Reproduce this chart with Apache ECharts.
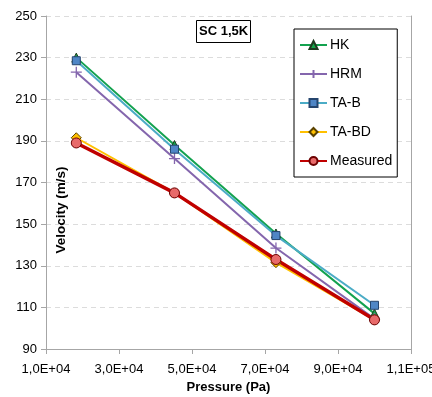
<!DOCTYPE html>
<html>
<head>
<meta charset="utf-8">
<script src="https://cdn.jsdelivr.net/npm/echarts@6/dist/echarts.min.js"></script>
<style>
  html, body { margin: 0; padding: 0; background: #fff; }
  #chart { width: 432px; height: 397px; }
</style>
</head>
<body>
<div id="chart"></div>
<script>
// Sound velocity vs. pressure for SC 1,5K: model predictions and measurement
const pressure = [18300, 45200, 73000, 100000];
const hk       = [230, 188, 145.5, 107];
const hrm      = [223, 181.5, 138.5, 104.5];
const taB      = [228.5, 186, 144.5, 111];
const taBD     = [191.5, 165, 131.5, 104];
const measured = [189, 165, 133, 104];

const FONT = '"Liberation Sans", Arial, sans-serif';

function pairs(xs, ys) { return xs.map((x, i) => [x, ys[i]]); }

// "1,0E+04" style scientific labels
function sci(v) {
  if (v === 0) return '0,0E+00';
  const e = Math.floor(Math.log10(Math.abs(v)) + 1e-9);
  const m = (v / Math.pow(10, e)).toFixed(1).replace('.', ',');
  return m + 'E+' + String(e).padStart(2, '0');
}

const crossPath = 'path://M0,5 L10,5 M5,0 L5,10';

function line(name, data, color, width, symbol, size, fill, border, bw) {
  return {
    name, type: 'line', data: pairs(pressure, data),
    symbol, symbolSize: size, showSymbol: true,
    lineStyle: { color, width },
    itemStyle: { color: fill, borderColor: border, borderWidth: bw },
    emphasis: { disabled: true },
    z: 2
  };
}

const chart = echarts.init(document.getElementById('chart'), null, { renderer: 'canvas' });
chart.setOption({
  animation: false,
  backgroundColor: '#fff',
  textStyle: { fontFamily: FONT },
  title: {
    text: 'SC 1,5K', left: 196, top: 20,
    padding: [5, 3], borderWidth: 1, borderColor: '#000',
    backgroundColor: '#fff',
    textStyle: { fontSize: 13, fontWeight: 'bold', color: '#000', fontFamily: FONT }
  },
  legend: {
    orient: 'vertical', left: 294, top: 29,
    padding: [9, 5, 9, 5], borderWidth: 1, borderColor: '#000',
    backgroundColor: '#fff',
    itemWidth: 27, itemHeight: 10, itemGap: 15,
    textStyle: { fontSize: 14, color: '#000', fontFamily: FONT, padding: [0, 0, 0, -2] },
    data: ['HK', 'HRM', 'TA-B', 'TA-BD', 'Measured']
  },
  grid: { left: 46, right: 21, top: 16, bottom: 48, containLabel: false, outerBoundsMode: 'none' },
  xAxis: {
    type: 'value', min: 10000, max: 110000, interval: 20000,
    name: 'Pressure (Pa)', nameLocation: 'middle', nameGap: 31,
    nameTextStyle: { fontSize: 13, fontWeight: 'bold', color: '#000' },
    axisLine: { show: true, lineStyle: { color: '#a6a6a6', width: 1 } },
    axisTick: { show: true, length: 5, lineStyle: { color: '#a6a6a6' } },
    axisLabel: { formatter: sci, fontSize: 13, color: '#000', margin: 14 },
    splitLine: { show: false }
  },
  yAxis: [{
    type: 'value', min: 90, max: 250, interval: 20,
    axisLine: { show: true, lineStyle: { color: '#a6a6a6', width: 1 } },
    axisTick: { show: true, length: 5, lineStyle: { color: '#a6a6a6' } },
    axisLabel: { fontSize: 13, color: '#000', margin: 9 },
    splitLine: { show: true, lineStyle: { color: '#dcdcdc', type: [5, 4], width: 1 } }
  }, {
    type: 'value', min: 90, max: 250, interval: 20, position: 'right',
    axisLine: { show: true, lineStyle: { color: '#a6a6a6', width: 1 } },
    axisTick: { show: false }, axisLabel: { show: false }, splitLine: { show: false }
  }],
  graphic: [{
    type: 'text', x: 61, y: 210, rotation: Math.PI / 2,
    style: {
      text: 'Velocity (m/s)', fill: '#000',
      font: 'bold 13.5px ' + FONT,
      textAlign: 'center', textVerticalAlign: 'middle'
    }
  }],
  series: [
    line('HK', hk, '#13a24f', 2, 'triangle', 9, '#16a54a', '#1e3a1e', 1),
    line('HRM', hrm, '#8466ad', 2, crossPath, 11, '#8466ad', '#8466ad', 1.3),
    line('TA-B', taB, '#4bacc6', 2, 'rect', 8, '#4f86c6', '#25456e', 1),
    line('TA-BD', taBD, '#ffc000', 2, 'diamond', 10, '#ffc000', '#5a4200', 1),
    line('Measured', measured, '#c00000', 3.5, 'circle', 10, '#e86a6a', '#6b0000', 1)
  ]
});
</script>
</body>
</html>
